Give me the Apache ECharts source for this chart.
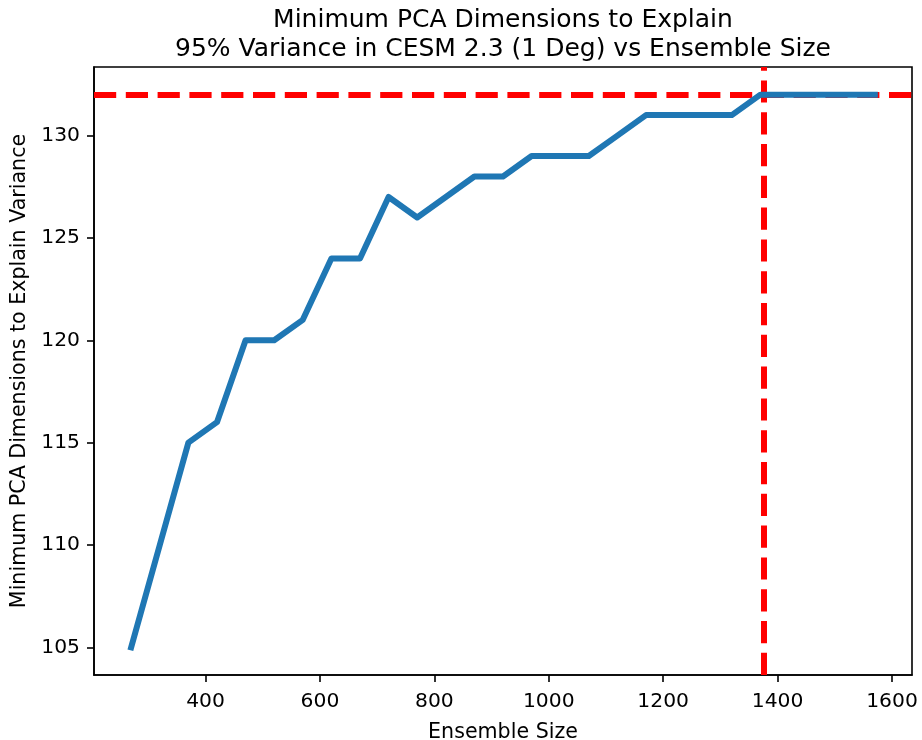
<!DOCTYPE html>
<html>
<head>
<meta charset="utf-8">
<script src="https://cdn.jsdelivr.net/npm/echarts@6/dist/echarts.min.js"></script>
<style>
html,body{margin:0;padding:0;background:#fff;}
#chart{width:922px;height:740px;}
</style>
</head>
<body>
<div id="chart"></div>
<script>
var ensembleSizes = [270, 320, 370, 420, 470, 520, 570, 620, 670, 720, 770, 820, 870, 920, 970, 1020, 1070, 1120, 1170, 1220, 1270, 1320, 1370, 1420, 1470, 1520, 1570];
var minDims = [105, 110, 115, 116, 120, 120, 121, 124, 124, 127, 126, 127, 128, 128, 129, 129, 129, 130, 131, 131, 131, 131, 132, 132, 132, 132, 132];
var thresholdDims = 132;
var thresholdSize = 1375;
var xTicks = [400, 600, 800, 1000, 1200, 1400, 1600];
var yTicks = [105, 110, 115, 120, 125, 130];
var titleLines = ['Minimum PCA Dimensions to Explain', '95% Variance in CESM 2.3 (1 Deg) vs Ensemble Size'];

var FONT = 'DejaVu Sans';
var chart = echarts.init(document.getElementById('chart'), null, {renderer: 'canvas'});
var lineData = ensembleSizes.map(function (x, i) { return [x, minDims[i]]; });

chart.setOption({
  animation: false,
  backgroundColor: '#fff',
  title: {
    text: titleLines.join('\n'),
    left: 503,
    top: 6,
    padding: 0,
    textAlign: 'center',
    textStyle: {fontFamily: FONT, fontSize: 25, fontWeight: 'normal', color: '#000', lineHeight: 28.8}
  },
  grid: {left: 94, right: 10, top: 67, bottom: 65, show: true, borderColor: '#000', borderWidth: 1.6,
    containLabel: false, outerBoundsMode: 'none'},
  xAxis: {
    type: 'value',
    min: 205,
    max: 1635,
    name: 'Ensemble Size',
    nameLocation: 'middle',
    nameGap: 47,
    nameTextStyle: {fontFamily: FONT, fontSize: 20.6, color: '#000'},
    axisLine: {show: true, lineStyle: {color: '#000', width: 1.6}},
    axisTick: {show: true, length: 7, lineStyle: {color: '#000', width: 1.6}, customValues: xTicks},
    axisLabel: {fontFamily: FONT, fontSize: 20.3, color: '#000', margin: 17, customValues: xTicks,
      formatter: function (v) { return String(v); }},
    splitLine: {show: false}
  },
  yAxis: {
    type: 'value',
    min: 103.65,
    max: 133.35,
    name: 'Minimum PCA Dimensions to Explain Variance',
    nameLocation: 'middle',
    nameGap: 64,
    nameTextStyle: {fontFamily: FONT, fontSize: 20.6, color: '#000'},
    axisLine: {show: true, lineStyle: {color: '#000', width: 1.6}},
    axisTick: {show: true, length: 7, lineStyle: {color: '#000', width: 1.6}, customValues: yTicks},
    axisLabel: {fontFamily: FONT, fontSize: 20.3, color: '#000', margin: 14, customValues: yTicks,
      formatter: function (v) { return String(v); }},
    splitLine: {show: false}
  },
  series: [
    {
      type: 'line',
      data: [],
      z: 1,
      silent: true,
      markLine: {
        z: 1,
        silent: true,
        symbol: ['none', 'none'],
        label: {show: false},
        lineStyle: {color: '#ff0000', width: 6, type: [22.2, 9.6], cap: 'butt'},
        emphasis: {disabled: true},
        data: [{yAxis: thresholdDims}, {xAxis: thresholdSize}]
      }
    },
    {
      type: 'line',
      data: lineData,
      z: 10,
      showSymbol: false,
      symbol: 'none',
      lineStyle: {color: '#1f77b4', width: 6, cap: 'square', join: 'round'},
      itemStyle: {color: '#1f77b4'}
    }
  ]
});
</script>
</body>
</html>
